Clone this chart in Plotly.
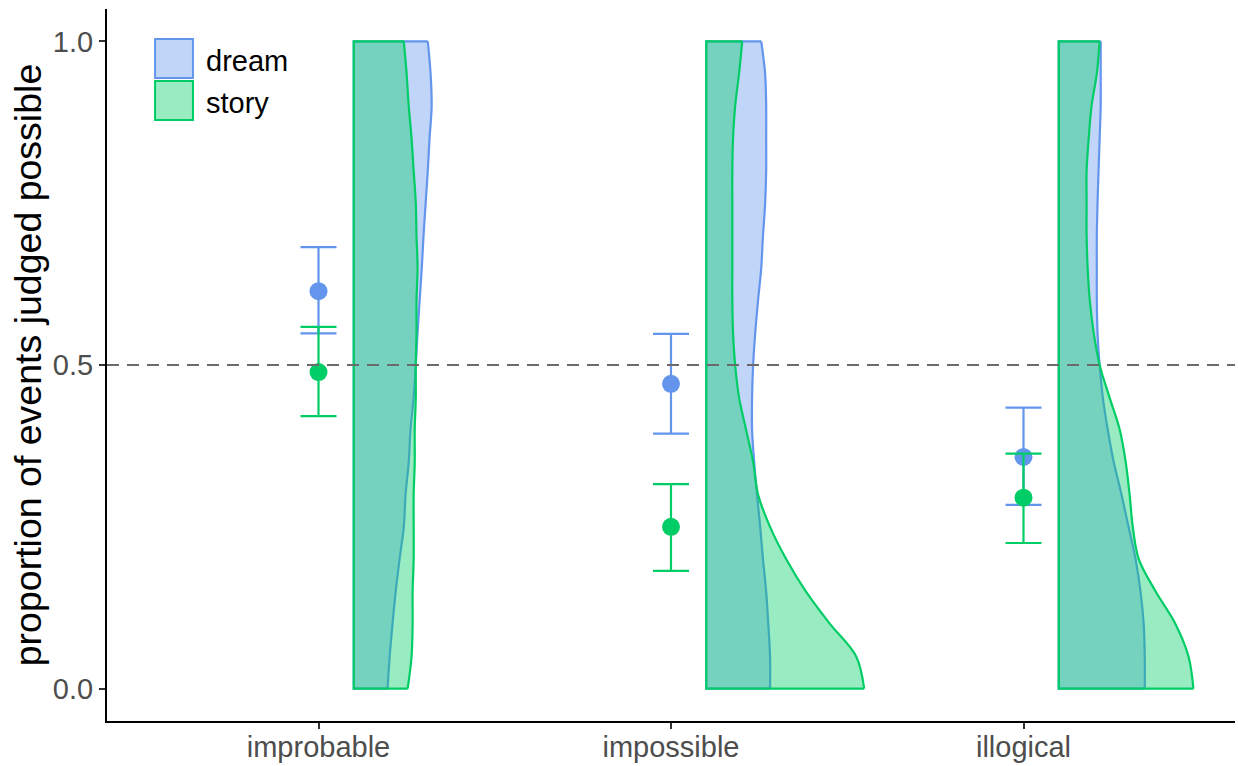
import plotly.graph_objects as go

# ---- data -------------------------------------------------------------
categories = ["improbable", "impossible", "illogical"]
groups = ["dream", "story"]

# mean proportion judged possible, with lower / upper interval bounds
mean_dream = [0.614, 0.471, 0.358]
lo_dream = [0.549, 0.394, 0.284]
hi_dream = [0.682, 0.548, 0.434]

mean_story = [0.489, 0.250, 0.295]
lo_story = [0.421, 0.182, 0.225]
hi_story = [0.559, 0.316, 0.363]

# grid of proportions at which the half-violin densities are given
density_y = [0.00, 0.05, 0.10, 0.15, 0.20, 0.25, 0.30, 0.35, 0.40, 0.45, 0.50,
             0.55, 0.60, 0.65, 0.70, 0.75, 0.80, 0.85, 0.90, 0.95, 1.00]

# scaled densities (half-violin widths, in category units)
density_dream = {
    "improbable": [.096, .102, .110, .119, .130, .142, .147, .156, .161, .170, .176,
                   .181, .187, .193, .198, .204, .210, .215, .221, .218, .210],
    "impossible": [.181, .181, .176, .170, .161, .153, .144, .136, .130, .130, .133,
                   .139, .147, .156, .161, .167, .170, .170, .170, .167, .156],
    "illogical":  [.244, .244, .241, .232, .218, .198, .178, .156, .139, .125, .116,
                   .110, .108, .108, .108, .110, .113, .116, .119, .119, .119],
}
density_story = {
    "improbable": [.153, .164, .167, .167, .170, .170, .170, .173, .173, .176, .176,
                   .178, .178, .181, .178, .176, .170, .164, .156, .150, .142],
    "impossible": [.448, .425, .351, .283, .227, .181, .147, .133, .113, .093, .082,
                   .076, .074, .074, .074, .074, .074, .076, .082, .093, .102],
    "illogical":  [.382, .368, .331, .275, .227, .210, .201, .190, .173, .144, .116,
                   .099, .088, .082, .079, .079, .079, .085, .093, .108, .116],
}

chance_level = 0.5

# ---- styling ------------------------------------------------------------
line_colors = {"dream": "#6495ED", "story": "#00CD66"}
fill_colors = {"dream": "rgba(100,149,237,0.4)", "story": "rgba(0,205,102,0.4)"}
FONT = "Liberation Sans, Arial, sans-serif"
VIOLIN_OFFSET = 0.1
LW = 2.2

fig = go.Figure()

# ---- half violins -------------------------------------------------------
for group, dens in (("dream", density_dream), ("story", density_story)):
    for i, cat in enumerate(categories):
        base = i + 1 + VIOLIN_OFFSET
        widths = dens[cat]
        # baseline for the fill
        fig.add_trace(go.Scatter(
            x=[base] * len(density_y), y=density_y, mode="lines",
            line=dict(width=0, color=line_colors[group]),
            showlegend=False, hoverinfo="skip"))
        # density outline, filled back to the baseline
        fig.add_trace(go.Scatter(
            x=[base + w for w in widths], y=density_y, mode="lines",
            line=dict(color=line_colors[group], width=LW, shape="spline", smoothing=1),
            fill="tonextx", fillcolor=fill_colors[group],
            showlegend=False, hoverinfo="skip"))
        # straight edges: top, flat side, bottom
        fig.add_trace(go.Scatter(
            x=[base + widths[-1], base, base, base + widths[0]],
            y=[density_y[-1], density_y[-1], density_y[0], density_y[0]],
            mode="lines", line=dict(color=line_colors[group], width=LW),
            showlegend=False, hoverinfo="skip"))

# ---- means with intervals ------------------------------------------------
for group, m, lo, hi in (("dream", mean_dream, lo_dream, hi_dream),
                         ("story", mean_story, lo_story, hi_story)):
    fig.add_trace(go.Scatter(
        x=[1, 2, 3], y=m, mode="markers",
        marker=dict(size=18, color=line_colors[group]),
        error_y=dict(type="data", symmetric=False,
                     array=[h - v for h, v in zip(hi, m)],
                     arrayminus=[v - l for v, l in zip(m, lo)],
                     color=line_colors[group], thickness=LW, width=18),
        name=group, showlegend=False))

# ---- reference line --------------------------------------------------------
fig.add_shape(type="line", xref="paper", x0=0, x1=1, yref="y",
              y0=chance_level, y1=chance_level, layer="above",
              line=dict(color="#6b6b6b", width=2, dash="12px,8px"))

# ---- legend keys -------------------------------------------------------------
legend_rows = [(groups[0], 0.958, 0.903), (groups[1], 0.899, 0.844)]
for group, y1, y0 in legend_rows:
    fig.add_shape(type="rect", xref="paper", yref="paper",
                  x0=0.0426, x1=0.0762, y0=y0, y1=y1,
                  fillcolor=fill_colors[group],
                  line=dict(color=line_colors[group], width=2))
    fig.add_annotation(xref="paper", yref="paper", x=0.086, y=(y0 + y1) / 2 - 0.003,
                       text=group, showarrow=False, xanchor="left", yanchor="middle",
                       font=dict(family=FONT, size=29, color="black"))

# ---- axes / layout ------------------------------------------------------------
fig.update_xaxes(
    range=[0.4, 3.6], tickvals=[1, 2, 3], ticktext=categories,
    showline=True, linecolor="black", linewidth=2,
    ticks="outside", ticklen=6, tickwidth=2, tickcolor="#333333",
    showgrid=False, zeroline=False, automargin=False, ticklabelstandoff=-7,
    tickfont=dict(family=FONT, size=29, color="#4d4d4d"))
fig.update_yaxes(
    range=[-0.05, 1.05], tickvals=[0, 0.5, 1], ticktext=["0.0", "0.5", "1.0"],
    showline=True, linecolor="black", linewidth=2,
    ticks="outside", ticklen=6, tickwidth=2, tickcolor="#333333",
    showgrid=False, zeroline=False, automargin=False,
    tickfont=dict(family=FONT, size=29, color="#4d4d4d"),
    title=dict(text="proportion of events judged possible",
               font=dict(family=FONT, size=37.5, color="black"), standoff=0))

fig.update_layout(
    width=1238, height=766,
    margin=dict(l=107, r=3, t=9, b=45),
    plot_bgcolor="white", paper_bgcolor="white",
    showlegend=False)

fig.write_html("out.html")
